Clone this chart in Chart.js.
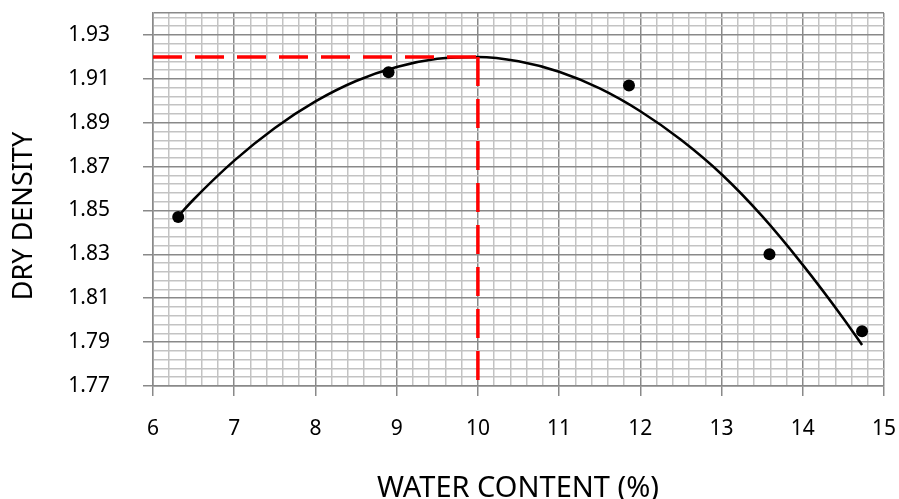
<!DOCTYPE html>
<html>
<head>
<meta charset="utf-8">
<script src="https://cdn.jsdelivr.net/npm/chart.js@4/dist/chart.umd.min.js"></script>
<style>
  html, body { margin: 0; padding: 0; background: #fff; }
  #wrap { width: 899px; height: 499px; }
</style>
</head>
<body>
<div id="wrap"><canvas id="compactionChart" width="899" height="499"></canvas></div>
<script>
// measured points (water content %, dry density)
const waterContent = [6.31, 8.90, 11.86, 13.59, 14.73];
const dryDensity = [1.847, 1.913, 1.907, 1.830, 1.795];

// trend curve
const curveX = [6.3, 6.5, 7, 7.5, 8, 8.5, 9, 9.5, 10, 10.5, 11, 11.5, 12, 12.5, 13, 13.5, 14, 14.5, 14.73];
const curveY = [1.847, 1.855, 1.8727, 1.8876, 1.8997, 1.909, 1.9154, 1.9191, 1.92, 1.918, 1.9132, 1.9056, 1.8952, 1.8822, 1.8665, 1.8474, 1.8252, 1.8008, 1.7887];

// optimum moisture / max dry density guides
const maxDensityX = [6, 10];
const maxDensityY = [1.92, 1.92];
const optMoistureX = [10, 10];
const optMoistureY = [1.92, 1.77];

// axis ranges
const xMin = 6, xMax = 15, xMinor = 0.2;
const yMin = 1.77, yMax = 1.94, yMinor = 0.004;

const majorColor = '#898989';
const minorColor = '#c3c3c3';

const toPoints = (xs, ys) => xs.map((x, i) => ({ x: x, y: ys[i] }));

// builds minor+major ticks starting from min (chart.js would snap to multiples of step)
const buildTicks = (min, max, step) => {
    const list = [];
    for (let i = 0; min + i * step <= max + 1e-9; i++) {
        list.push({ value: Math.round((min + i * step) * 1e6) / 1e6 });
    }
    if (list[list.length - 1].value < max - 1e-9) list.push({ value: max });
    return list;
};

const isMajor = (ctx) => ctx.index % 5 === 0 || ctx.index === ctx.scale.ticks.length - 1;

const gridFor = () => ({
    color: ctx => isMajor(ctx) ? majorColor : minorColor,
    lineWidth: 1.5,
    tickColor: ctx => ctx.index % 5 === 0 ? majorColor : 'rgba(0,0,0,0)',
    tickLength: 10,
    tickWidth: 1.5
});

const guideLine = (data) => ({
    data: data,
    showLine: true,
    borderColor: '#ff0000',
    borderWidth: 3.5,
    borderDash: [29, 13],
    pointRadius: 0,
    tension: 0,
    order: 1
});

// axis titles drawn by hand so they sit where the original has them
const axisTitles = {
    id: 'axisTitles',
    afterDraw(chart) {
        const c = chart.ctx;
        c.save();
        c.fillStyle = '#000';
        c.textAlign = 'center';
        c.textBaseline = 'alphabetic';
        c.font = '29px "Noto Sans"';
        c.fillText('WATER CONTENT (%)', 518, 497);
        c.font = '27px "Noto Sans"';
        c.translate(32, 216);
        c.rotate(-Math.PI / 2);
        c.fillText('DRY DENSITY', 0, 0);
        c.restore();
    }
};

const ctx = document.getElementById('compactionChart').getContext('2d');
new Chart(ctx, {
    type: 'scatter',
    data: {
        datasets: [
            {
                label: 'points',
                data: toPoints(waterContent, dryDensity),
                backgroundColor: '#000',
                borderWidth: 0,
                pointRadius: 6,
                order: 0
            },
            guideLine(toPoints(maxDensityX, maxDensityY)),
            guideLine(toPoints(optMoistureX, optMoistureY)),
            {
                label: 'curve',
                data: toPoints(curveX, curveY),
                showLine: true,
                borderColor: '#000',
                borderWidth: 2.5,
                pointRadius: 0,
                cubicInterpolationMode: 'monotone',
                order: 2
            }
        ]
    },
    options: {
        responsive: false,
        animation: false,
        layout: { padding: { top: 13, right: 15, left: 0, bottom: 0 } },
        plugins: {
            legend: { display: false },
            tooltip: { enabled: false }
        },
        scales: {
            x: {
                type: 'linear',
                min: xMin,
                max: xMax,
                afterBuildTicks: s => { s.ticks = buildTicks(xMin, xMax, xMinor); },
                afterFit: s => { s.height = 113; s.paddingLeft = 0; s.paddingRight = 0; },
                grid: gridFor(),
                border: { color: majorColor, width: 1.5 },
                ticks: {
                    color: '#000',
                    font: { family: 'Noto Sans', size: 21 },
                    padding: 20,
                    autoSkip: false,
                    maxRotation: 0,
                    callback: (v, i) => i % 5 === 0 ? String(Math.round(v)) : ''
                }
            },
            y: {
                type: 'linear',
                min: yMin,
                max: yMax,
                afterBuildTicks: s => { s.ticks = buildTicks(yMin, yMax, yMinor); },
                afterFit: s => { s.width = 153; s.paddingTop = 0; s.paddingBottom = 0; },
                grid: gridFor(),
                border: { color: majorColor, width: 1.5 },
                ticks: {
                    color: '#000',
                    font: { family: 'Noto Sans', size: 21 },
                    padding: 33,
                    autoSkip: false,
                    callback: (v, i) => i % 5 === 0 ? v.toFixed(2) : ''
                }
            }
        }
    },
    plugins: [axisTitles]
});
</script>
</body>
</html>
